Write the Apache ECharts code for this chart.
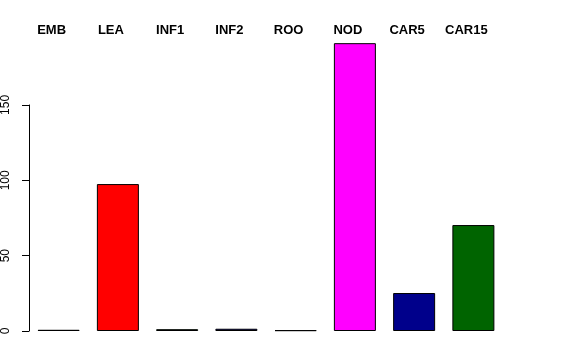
<!DOCTYPE html>
<html>
<head>
<meta charset="utf-8">
<script src="https://cdn.jsdelivr.net/npm/echarts@6/dist/echarts.min.js"></script>
<style>html,body{margin:0;padding:0;background:#fff}#c{width:576px;height:360px}</style>
</head>
<body>
<div id="c"></div>
<script>
var categories = ["EMB", "LEA", "INF1", "INF2", "ROO", "NOD", "CAR5", "CAR15"];
var values = [0.8, 97.5, 1.2, 1.5, 0.5, 191, 25.2, 70.3];
var colors = ["#000000", "#FF0000", "#006400", "#00008B", "#A52A2A", "#FF00FF", "#00008B", "#006400"];
var yTicks = [0, 50, 100, 150];

var chart = echarts.init(document.getElementById('c'), null, {renderer: 'canvas'});
var font = 'Liberation Sans, Arial, Helvetica, sans-serif';
chart.setOption({
  animation: false,
  backgroundColor: '#ffffff',
  grid: [
    {left: 29, top: 29.6, width: 474, height: 301.4},
    {left: 29, top: 331 - 226.05, width: 474, height: 226.05}
  ],
  xAxis: [
    {
      gridIndex: 0, type: 'category', data: categories, position: 'top',
      offset: -7,
      axisLine: {show: false}, axisTick: {show: false}, splitLine: {show: false},
      axisLabel: {margin: 0, color: '#000', fontFamily: font, fontWeight: 'bold', fontSize: 13, interval: 0, padding: [0, 14, 0, 0]}
    },
    {
      gridIndex: 1, type: 'category', data: categories, show: false
    }
  ],
  yAxis: [
    {gridIndex: 0, type: 'value', min: 0, max: 200, show: false, splitLine: {show: false}},
    {
      gridIndex: 1, type: 'value', min: yTicks[0], max: yTicks[yTicks.length - 1], interval: 50,
      axisLine: {show: true, lineStyle: {color: '#000', width: 1}},
      axisTick: {show: true, length: 7, lineStyle: {color: '#000'}},
      splitLine: {show: false},
      axisLabel: {rotate: 90, margin: 23, color: '#000', fontFamily: font, fontSize: 12, verticalAlign: 'middle', align: 'center'}
    }
  ],
  series: [{
    type: 'bar', xAxisIndex: 0, yAxisIndex: 0,
    barWidth: 42,
    data: values.map(function (v, i) {
      return {value: v, itemStyle: {color: colors[i], borderColor: '#000', borderWidth: 1}};
    })
  }]
});
</script>
</body>
</html>
